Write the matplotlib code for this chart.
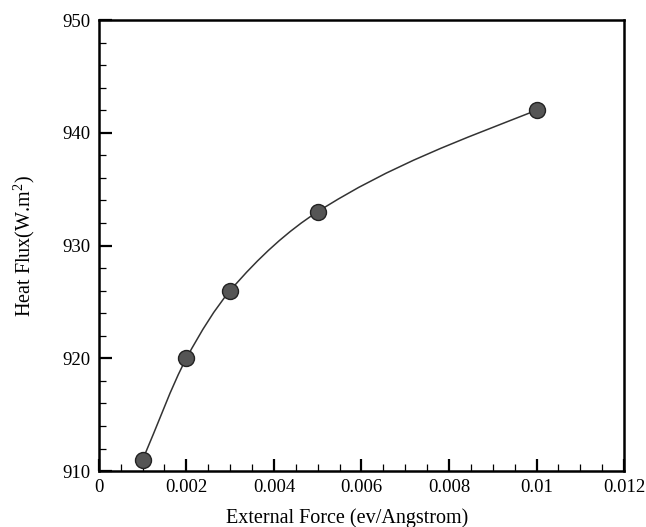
import numpy as np
import matplotlib
matplotlib.use("Agg")
import matplotlib.pyplot as plt
from matplotlib.path import Path
from matplotlib.patches import PathPatch
from matplotlib.ticker import MultipleLocator

force = [0.001, 0.002, 0.003, 0.005, 0.01]
heat_flux = [911, 920, 926, 933, 942]
x_ticks = [0, 0.002, 0.004, 0.006, 0.008, 0.01, 0.012]
x_tick_labels = ["0", "0.002", "0.004", "0.006", "0.008", "0.01", "0.012"]
y_ticks = [910, 920, 930, 940, 950]

plt.rcParams['font.family'] = ['Liberation Serif', 'DejaVu Serif']
plt.rcParams['mathtext.fontset'] = 'custom'
plt.rcParams['mathtext.rm'] = 'Liberation Serif'

fig = plt.figure(figsize=(6.46, 5.27), dpi=100)
ax = fig.add_axes([0.153, 0.106, 0.813, 0.856])

# smooth monotone curve drawn as cubic Bezier path
x = np.array(force, float)
y = np.array(heat_flux, float)
h = np.diff(x)
d = np.diff(y) / h
n = len(x)
m = np.zeros(n)
for k in range(1, n - 1):
    if d[k - 1] * d[k] > 0:
        w1 = 2 * h[k] + h[k - 1]
        w2 = h[k] + 2 * h[k - 1]
        m[k] = (w1 + w2) / (w1 / d[k - 1] + w2 / d[k])
m[0] = d[0]
m[-1] = d[-1] * 0.85

verts = [(x[0], y[0])]
codes = [Path.MOVETO]
for k in range(n - 1):
    verts += [(x[k] + h[k] / 3, y[k] + m[k] * h[k] / 3),
              (x[k + 1] - h[k] / 3, y[k + 1] - m[k + 1] * h[k] / 3),
              (x[k + 1], y[k + 1])]
    codes += [Path.CURVE4] * 3
ax.add_patch(PathPatch(Path(verts, codes), facecolor='none',
                       edgecolor='#333333', lw=1.1, zorder=2))

ax.plot(force, heat_flux, linestyle='none', marker='o', markersize=11.5,
        markerfacecolor='#555555', markeredgecolor='#222222',
        markeredgewidth=1.0, zorder=3)

ax.set_xlim(0, 0.012)
ax.set_ylim(910, 950)
ax.set_xticks(x_ticks)
ax.set_xticklabels(x_tick_labels)
ax.set_yticks(y_ticks)
ax.xaxis.set_minor_locator(MultipleLocator(0.0005))
ax.yaxis.set_minor_locator(MultipleLocator(2))
ax.tick_params(which='major', direction='in', length=9, width=1.6,
               labelsize=13.5, top=False, right=False, pad=6)
ax.tick_params(which='minor', direction='in', length=5, width=0.9,
               top=False, right=False)
for s in ax.spines.values():
    s.set_linewidth(1.8)

ax.set_xlabel('External Force (ev/Angstrom)', fontsize=14.5, labelpad=7)
ax.xaxis.set_label_coords(0.472, -0.082)
ax.set_ylabel(r'Heat Flux(W.m$^2$)', fontsize=14.5, labelpad=18)

fig.savefig('out.png', dpi=100)
